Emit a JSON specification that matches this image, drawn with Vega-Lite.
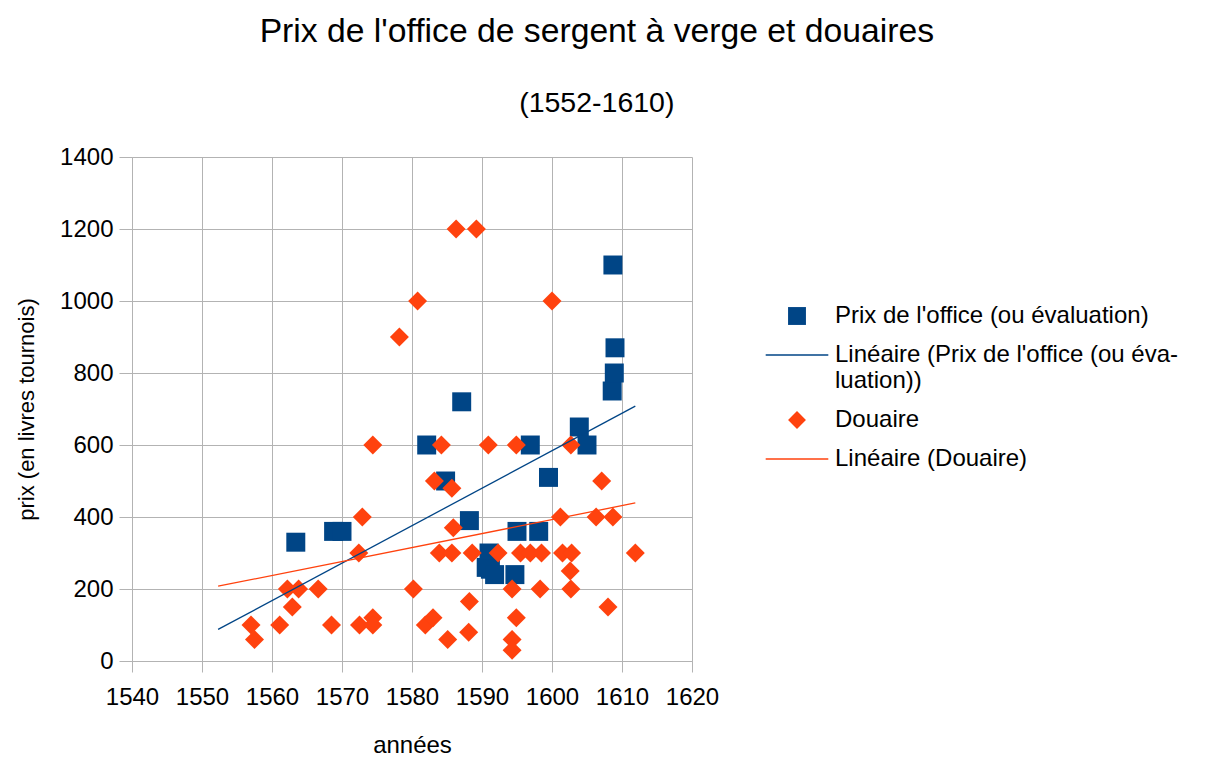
{
  "$schema": "https://vega.github.io/schema/vega-lite/v6.json",
  "width": 560,
  "height": 504,
  "padding": {"left": 15, "top": 14, "right": 5, "bottom": 0},
  "background": "white",
  "title": {
    "text": "Prix de l'office de sergent à verge et douaires",
    "subtitle": "(1552-1610)",
    "frame": "bounds",
    "anchor": "middle",
    "font": "Liberation Sans",
    "fontSize": 33.7,
    "fontWeight": "normal",
    "color": "black",
    "subtitleFont": "Liberation Sans",
    "subtitleFontSize": 28.5,
    "subtitleColor": "black",
    "subtitlePadding": 40,
    "offset": 28
  },
  "config": {
    "view": {"stroke": null},
    "axis": {
      "domainColor": "#b3b3b3",
      "gridColor": "#b3b3b3",
      "tickColor": "#b3b3b3",
      "labelFont": "Liberation Sans",
      "labelFontSize": 24,
      "labelColor": "black",
      "titleFont": "Liberation Sans",
      "titleFontSize": 24,
      "titleFontWeight": "normal",
      "titleColor": "black",
      "tickSize": 11,
      "gridWidth": 1,
      "domainWidth": 1,
      "labelOverlap": false,
      "labelFlush": false
    }
  },
  "datasets": {
    "pts": [
      {"annee": 1563.4, "prix": 330, "serie": "Prix de l'office (ou évaluation)"},
      {"annee": 1568.8, "prix": 360, "serie": "Prix de l'office (ou évaluation)"},
      {"annee": 1570.0, "prix": 360, "serie": "Prix de l'office (ou évaluation)"},
      {"annee": 1582.1, "prix": 600, "serie": "Prix de l'office (ou évaluation)"},
      {"annee": 1584.8, "prix": 500, "serie": "Prix de l'office (ou évaluation)"},
      {"annee": 1587.1, "prix": 720, "serie": "Prix de l'office (ou évaluation)"},
      {"annee": 1588.2, "prix": 390, "serie": "Prix de l'office (ou évaluation)"},
      {"annee": 1591.0, "prix": 300, "serie": "Prix de l'office (ou évaluation)"},
      {"annee": 1590.6, "prix": 260, "serie": "Prix de l'office (ou évaluation)"},
      {"annee": 1591.2, "prix": 255, "serie": "Prix de l'office (ou évaluation)"},
      {"annee": 1591.8, "prix": 240, "serie": "Prix de l'office (ou évaluation)"},
      {"annee": 1594.7, "prix": 240, "serie": "Prix de l'office (ou évaluation)"},
      {"annee": 1595.0, "prix": 360, "serie": "Prix de l'office (ou évaluation)"},
      {"annee": 1598.1, "prix": 360, "serie": "Prix de l'office (ou évaluation)"},
      {"annee": 1596.9, "prix": 600, "serie": "Prix de l'office (ou évaluation)"},
      {"annee": 1599.5, "prix": 510, "serie": "Prix de l'office (ou évaluation)"},
      {"annee": 1603.9, "prix": 650, "serie": "Prix de l'office (ou évaluation)"},
      {"annee": 1605.0, "prix": 600, "serie": "Prix de l'office (ou évaluation)"},
      {"annee": 1608.6, "prix": 750, "serie": "Prix de l'office (ou évaluation)"},
      {"annee": 1608.9, "prix": 800, "serie": "Prix de l'office (ou évaluation)"},
      {"annee": 1609.0, "prix": 870, "serie": "Prix de l'office (ou évaluation)"},
      {"annee": 1608.7, "prix": 1100, "serie": "Prix de l'office (ou évaluation)"},
      {"annee": 1557.0, "prix": 100, "serie": "Douaire"},
      {"annee": 1557.5, "prix": 60, "serie": "Douaire"},
      {"annee": 1561.1, "prix": 100, "serie": "Douaire"},
      {"annee": 1562.2, "prix": 200, "serie": "Douaire"},
      {"annee": 1562.9, "prix": 150, "serie": "Douaire"},
      {"annee": 1563.8, "prix": 200, "serie": "Douaire"},
      {"annee": 1566.6, "prix": 200, "serie": "Douaire"},
      {"annee": 1568.5, "prix": 100, "serie": "Douaire"},
      {"annee": 1572.4, "prix": 300, "serie": "Douaire"},
      {"annee": 1572.5, "prix": 100, "serie": "Douaire"},
      {"annee": 1572.9, "prix": 400, "serie": "Douaire"},
      {"annee": 1574.4, "prix": 120, "serie": "Douaire"},
      {"annee": 1574.4, "prix": 100, "serie": "Douaire"},
      {"annee": 1574.4, "prix": 600, "serie": "Douaire"},
      {"annee": 1578.2, "prix": 900, "serie": "Douaire"},
      {"annee": 1580.2, "prix": 200, "serie": "Douaire"},
      {"annee": 1580.8, "prix": 1000, "serie": "Douaire"},
      {"annee": 1581.9, "prix": 100, "serie": "Douaire"},
      {"annee": 1583.0, "prix": 120, "serie": "Douaire"},
      {"annee": 1583.2, "prix": 500, "serie": "Douaire"},
      {"annee": 1583.9, "prix": 300, "serie": "Douaire"},
      {"annee": 1584.2, "prix": 600, "serie": "Douaire"},
      {"annee": 1585.1, "prix": 60, "serie": "Douaire"},
      {"annee": 1585.7, "prix": 480, "serie": "Douaire"},
      {"annee": 1585.9, "prix": 370, "serie": "Douaire"},
      {"annee": 1585.7, "prix": 300, "serie": "Douaire"},
      {"annee": 1586.3, "prix": 1200, "serie": "Douaire"},
      {"annee": 1588.1, "prix": 80, "serie": "Douaire"},
      {"annee": 1588.2, "prix": 165, "serie": "Douaire"},
      {"annee": 1588.6, "prix": 300, "serie": "Douaire"},
      {"annee": 1589.2, "prix": 1200, "serie": "Douaire"},
      {"annee": 1590.9, "prix": 600, "serie": "Douaire"},
      {"annee": 1592.3, "prix": 300, "serie": "Douaire"},
      {"annee": 1594.3, "prix": 200, "serie": "Douaire"},
      {"annee": 1594.3, "prix": 60, "serie": "Douaire"},
      {"annee": 1594.3, "prix": 30, "serie": "Douaire"},
      {"annee": 1594.9, "prix": 120, "serie": "Douaire"},
      {"annee": 1594.9, "prix": 600, "serie": "Douaire"},
      {"annee": 1595.5, "prix": 300, "serie": "Douaire"},
      {"annee": 1596.9, "prix": 300, "serie": "Douaire"},
      {"annee": 1598.3, "prix": 200, "serie": "Douaire"},
      {"annee": 1598.5, "prix": 300, "serie": "Douaire"},
      {"annee": 1600.0, "prix": 1000, "serie": "Douaire"},
      {"annee": 1601.2, "prix": 400, "serie": "Douaire"},
      {"annee": 1601.5, "prix": 300, "serie": "Douaire"},
      {"annee": 1602.6, "prix": 250, "serie": "Douaire"},
      {"annee": 1602.7, "prix": 200, "serie": "Douaire"},
      {"annee": 1602.7, "prix": 600, "serie": "Douaire"},
      {"annee": 1602.8, "prix": 300, "serie": "Douaire"},
      {"annee": 1606.3, "prix": 400, "serie": "Douaire"},
      {"annee": 1607.1, "prix": 500, "serie": "Douaire"},
      {"annee": 1608.0, "prix": 150, "serie": "Douaire"},
      {"annee": 1608.7, "prix": 400, "serie": "Douaire"},
      {"annee": 1611.9, "prix": 300, "serie": "Douaire"}
    ]
  },
  "data": {"name": "pts"},
  "encoding": {
    "x": {
      "field": "annee",
      "type": "quantitative",
      "title": "années",
      "scale": {"domain": [1540, 1620], "nice": false, "zero": false},
      "axis": {
        "values": [1540, 1550, 1560, 1570, 1580, 1590, 1600, 1610, 1620],
        "format": "d",
        "labelPadding": 13,
        "titlePadding": 24
      }
    },
    "y": {
      "field": "prix",
      "type": "quantitative",
      "title": "prix (en livres tournois)",
      "scale": {"domain": [0, 1400], "nice": false},
      "axis": {
        "values": [0, 200, 400, 600, 800, 1000, 1200, 1400],
        "format": "d",
        "tickSize": 13,
        "labelPadding": 6,
        "titlePadding": 21,
        "titleFontSize": 22
      }
    }
  },
  "layer": [
    {
      "mark": {"type": "point", "filled": true, "opacity": 1, "size": 360, "strokeWidth": 0},
      "encoding": {
        "color": {
          "field": "serie",
          "type": "nominal",
          "scale": {
            "domain": ["Prix de l'office (ou évaluation)", "Linéaire (Prix de l'office (ou évaluation))", "Douaire", "Linéaire (Douaire)"],
            "range": ["#004586", "#004586", "#ff420e", "#ff420e"]
          },
          "legend": {
            "title": null,
            "orient": "none",
            "legendX": 653,
            "legendY": 147,
            "padding": 0,
            "labelFont": "Liberation Sans",
            "labelFontSize": 24,
            "labelColor": "black",
            "labelLimit": 600,
            "labelOffset": 26,
            "rowPadding": 15,
            "symbolSize": 320,
            "symbolOpacity": 1,
            "symbolStrokeWidth": 0,
            "labelExpr": "datum.label == \"Linéaire (Prix de l'office (ou évaluation))\" ? [\"Linéaire (Prix de l'office (ou éva-\", \"luation))\"] : datum.label"
          }
        },
        "shape": {
          "field": "serie",
          "type": "nominal",
          "scale": {
            "domain": ["Prix de l'office (ou évaluation)", "Linéaire (Prix de l'office (ou évaluation))", "Douaire", "Linéaire (Douaire)"],
            "range": ["square", "M-3.5,-0.08H3.5V0.08H-3.5Z", "diamond", "M-3.5,-0.08H3.5V0.08H-3.5Z"]
          },
          "legend": {
            "title": null,
            "orient": "none",
            "legendX": 653,
            "legendY": 147,
            "padding": 0,
            "labelFont": "Liberation Sans",
            "labelFontSize": 24,
            "labelColor": "black",
            "labelLimit": 600,
            "labelOffset": 26,
            "rowPadding": 15,
            "symbolSize": 320,
            "symbolOpacity": 1,
            "symbolStrokeWidth": 0,
            "labelExpr": "datum.label == \"Linéaire (Prix de l'office (ou évaluation))\" ? [\"Linéaire (Prix de l'office (ou éva-\", \"luation))\"] : datum.label"
          }
        }
      }
    },
    {
      "transform": [
        {"regression": "prix", "on": "annee", "groupby": ["serie"], "extent": [1552.3, 1611.9]}
      ],
      "mark": {"type": "line", "strokeWidth": 1.3},
      "encoding": {
        "color": {"field": "serie", "type": "nominal"},
        "detail": {"field": "serie", "type": "nominal"}
      }
    }
  ]
}
